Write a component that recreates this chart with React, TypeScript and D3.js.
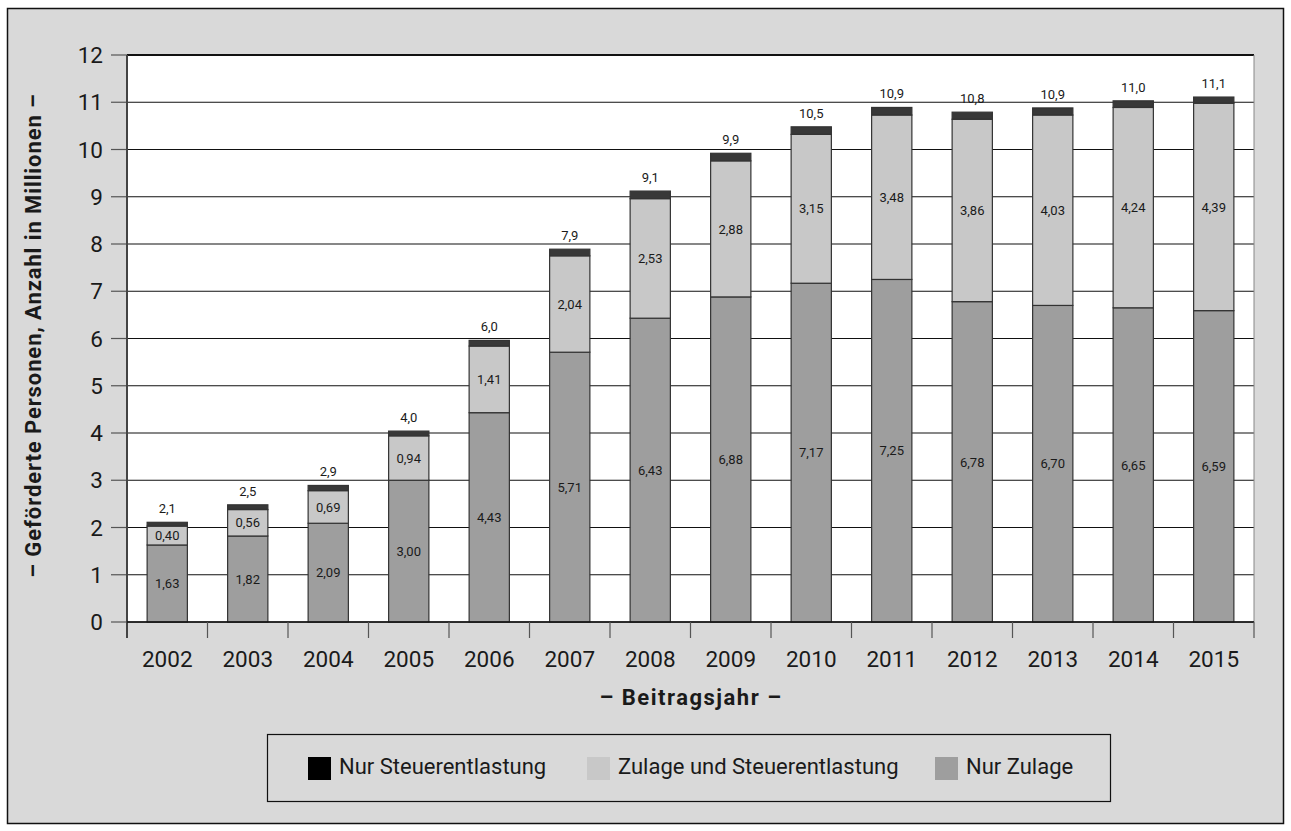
import React from "react";
import * as d3 from "d3";

const years = ["2002","2003","2004","2005","2006","2007","2008","2009","2010","2011","2012","2013","2014","2015"];
const nurZulage = [1.63,1.82,2.09,3.00,4.43,5.71,6.43,6.88,7.17,7.25,6.78,6.70,6.65,6.59];
const zulageUndSteuer = [0.40,0.56,0.69,0.94,1.41,2.04,2.53,2.88,3.15,3.48,3.86,4.03,4.24,4.39];
const nurSteuer = [0.08,0.10,0.11,0.10,0.12,0.14,0.16,0.16,0.16,0.16,0.15,0.15,0.14,0.13];
const totalLabels = ["2,1","2,5","2,9","4,0","6,0","7,9","9,1","9,9","10,5","10,9","10,8","10,9","11,0","11,1"];
const yTicks = [0,1,2,3,4,5,6,7,8,9,10,11,12];
const seriesNames = ["Nur Steuerentlastung","Zulage und Steuerentlastung","Nur Zulage"];

const W = 1291, H = 831;
const left = 127, right = 1254, top = 55, bottom = 622;
const FONT = "Roboto, 'DejaVu Sans', sans-serif";

const fmt = (v: number) => v.toFixed(2).replace(".", ",");

export default function App() {
  const x = d3.scaleBand<string>().domain(years).range([left, right]).paddingInner(0.5).paddingOuter(0.25);
  const xb = d3.scaleBand<string>().domain(years).range([left, right]);
  const y = d3.scaleLinear().domain([0, 12]).range([bottom, top]);

  const rows = years.map((yr, i) => ({ yr, a: nurZulage[i], b: zulageUndSteuer[i], c: nurSteuer[i], t: totalLabels[i] }));
  const stack = d3.stack<any>().keys(["a", "b", "c"])(rows as any);
  const fills = ["#9e9e9e", "#c8c8c8", "#383838"];

  return (
    <svg width={W} height={H} style={{ position: "absolute", left: 0, top: 0, fontFamily: FONT }}>
      <rect x={7.5} y={8.5} width={1276} height={815} fill="#d9d9d9" stroke="#111" strokeWidth={1.5} />
      <rect x={left} y={top} width={right - left} height={bottom - top} fill="#fff" />
      {yTicks.map(t => (
        <g key={t}>
          <line x1={left} x2={right} y1={y(t)} y2={y(t)} stroke="#111" strokeWidth={t === 12 ? 2 : 1.2} />
          <line x1={111} x2={left} y1={y(t)} y2={y(t)} stroke="#555" strokeWidth={1.2} />
          <text x={103} y={y(t)} dy="0.36em" textAnchor="end" fontSize={22.5} fill="#1a1a1a">{t}</text>
        </g>
      ))}
      <line x1={right} x2={right} y1={top} y2={bottom} stroke="#888" strokeWidth={1} />
      {stack.map((s, si) => (
        <g key={si}>
          {s.map((d, i) => (
            <rect key={i} x={x(years[i])!} width={x.bandwidth()} y={y(d[1])} height={y(d[0]) - y(d[1])}
              fill={fills[si]} stroke="#333" strokeWidth={1.2} />
          ))}
        </g>
      ))}
      {stack.slice(0, 2).map((s, si) => (
        <g key={"l" + si}>
          {s.map((d, i) => (
            <text key={i} x={x(years[i])! + x.bandwidth() / 2} y={(y(d[0]) + y(d[1])) / 2} dy="0.36em"
              textAnchor="middle" fontSize={13} fill="#1a1a1a">{fmt(d[1] - d[0])}</text>
          ))}
        </g>
      ))}
      {rows.map((r, i) => (
        <text key={"t" + i} x={x(r.yr)! + x.bandwidth() / 2} y={y(stack[2][i][1]) - 9} textAnchor="middle"
          fontSize={13} fill="#1a1a1a">{r.t}</text>
      ))}
      <line x1={left} x2={left} y1={top} y2={bottom + 16} stroke="#444" strokeWidth={2} />
      <line x1={left} x2={right} y1={bottom} y2={bottom} stroke="#111" strokeWidth={1.5} />
      {years.map(yr => (
        <line key={"tk" + yr} x1={xb(yr)! + xb.bandwidth()} x2={xb(yr)! + xb.bandwidth()} y1={bottom} y2={bottom + 16}
          stroke="#555" strokeWidth={1.2} />
      ))}
      {years.map(yr => (
        <text key={"yl" + yr} x={xb(yr)! + xb.bandwidth() / 2} y={667} textAnchor="middle" fontSize={22.5} fill="#1a1a1a">{yr}</text>
      ))}
      <text x={691} y={705} textAnchor="middle" fontSize={22} fontWeight="bold" letterSpacing={1.5} fill="#1a1a1a">– Beitragsjahr –</text>
      <text transform={`translate(41,${(top + bottom) / 2 - 3}) rotate(-90)`} textAnchor="middle" fontSize={22}
        fontWeight="bold" letterSpacing={0.9} fill="#1a1a1a">– Geförderte Personen, Anzahl in Millionen –</text>
      <rect x={267.5} y={734.5} width={843} height={67} fill="#d9d9d9" stroke="#111" strokeWidth={1.2} />
      {seriesNames.map((n, i) => {
        const lx = [308, 587, 935][i];
        const col = ["#000", "#c8c8c8", "#9e9e9e"][i];
        return (
          <g key={n}>
            <rect x={lx} y={757} width={23} height={23} fill={col} />
            <text x={lx + 31} y={774} fontSize={22} fill="#1a1a1a">{n}</text>
          </g>
        );
      })}
    </svg>
  );
}
